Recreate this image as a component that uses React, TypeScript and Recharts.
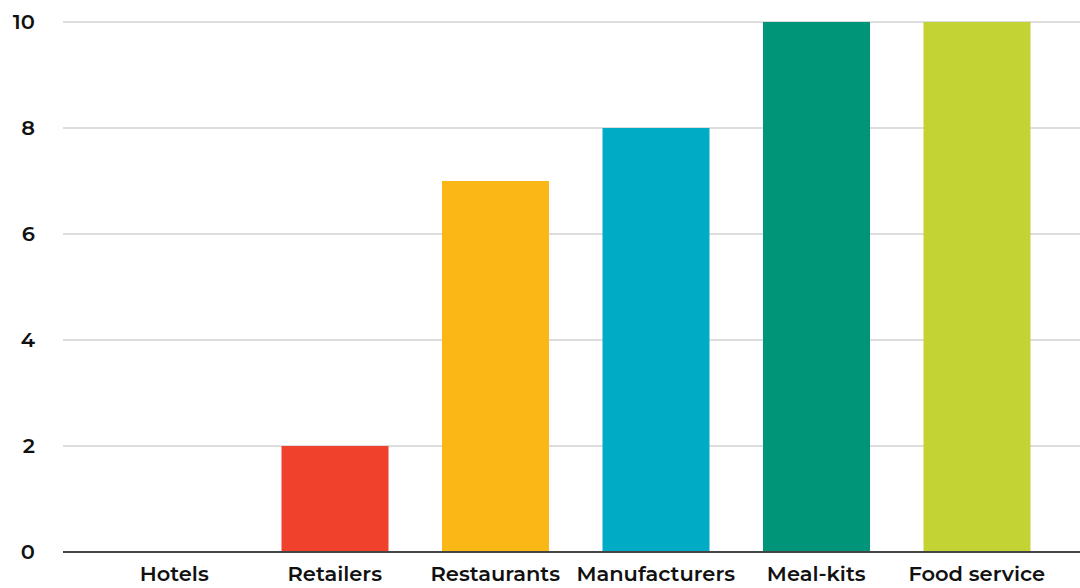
import { BarChart, Bar, XAxis, YAxis, CartesianGrid, Cell } from 'recharts'

const categories = ['Hotels', 'Retailers', 'Restaurants', 'Manufacturers', 'Meal-kits', 'Food service']
const values = [0, 2, 7, 8, 10, 10]
const colors = ['#9e9e9e', '#ef412c', '#fbb715', '#00abc6', '#009479', '#c3d333']
const yTicks = [0, 2, 4, 6, 8, 10]

const data = categories.map((name, i) => ({ name, value: values[i] }))

const tickStyle = { fill: '#111', fontSize: 21, fontWeight: 600, fontFamily: 'Montserrat, "Open Sans", sans-serif' }

export default function App() {
    return (
        <div style={{ position: 'absolute', left: 0, top: 0, background: '#fff' }}>
            <BarChart
                width={1080}
                height={588}
                data={data}
                margin={{ top: 22, right: 0, left: 0, bottom: 0 }}
                barCategoryGap={0}
            >
                <CartesianGrid vertical={false} stroke="#d2d2d2" strokeWidth={1.5} />
                <XAxis
                    dataKey="name"
                    height={36}
                    tickLine={false}
                    axisLine={{ stroke: '#444', strokeWidth: 2 }}
                    tick={tickStyle}
                    tickMargin={8}
                    padding={{ left: 31, right: 23 }}
                    interval={0}
                />
                <YAxis
                    width={63}
                    domain={[0, 10]}
                    ticks={yTicks}
                    axisLine={false}
                    tickLine={false}
                    tick={tickStyle}
                    tickMargin={22}
                />
                <Bar dataKey="value" barSize={107} isAnimationActive={false}>
                    {data.map((d, i) => (
                        <Cell key={d.name} fill={colors[i]} />
                    ))}
                </Bar>
            </BarChart>
        </div>
    )
}
